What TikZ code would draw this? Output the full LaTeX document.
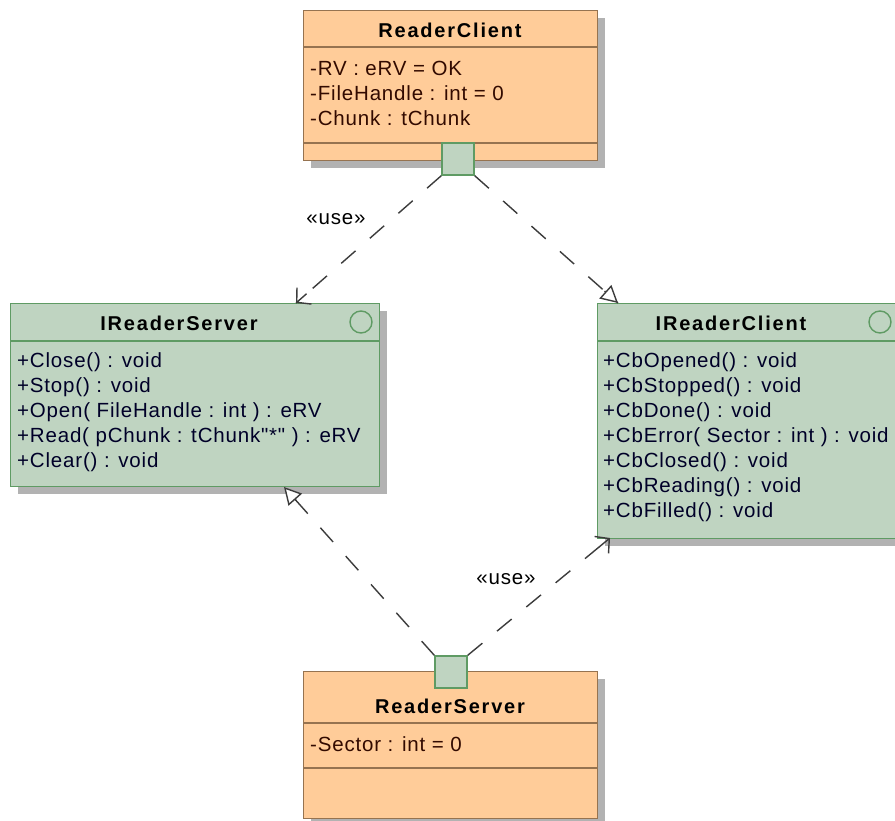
\documentclass[tikz,border=0pt]{standalone}
\usepackage{fontspec}
\setmainfont{Liberation Sans}
\newfontfamily\bodyfont[LetterSpace=4]{Liberation Sans}
\newfontfamily\headfont[LetterSpace=9]{Liberation Sans Bold}
\usetikzlibrary{arrows.meta,shadows,calc}
\definecolor{orfill}{RGB}{255,204,153}
\definecolor{ordraw}{RGB}{150,115,80}
\definecolor{grfill}{RGB}{191,212,193}
\definecolor{grdraw}{RGB}{95,155,100}
\definecolor{shade}{RGB}{178,178,178}
\definecolor{lnk}{RGB}{60,60,60}
\definecolor{ortext}{RGB}{50,10,0}
\definecolor{grtext}{RGB}{0,0,40}
\tikzset{
  x=1pt,y=-1pt,
  boxshadow/.style={drop shadow={shadow xshift=7pt,shadow yshift=-7pt,fill=shade,opacity=1}},
  orbox/.style={draw=ordraw,fill=orfill,line width=1.4pt,anchor=north west,inner sep=0,boxshadow},
  grbox/.style={draw=grdraw,fill=grfill,line width=1.4pt,anchor=north west,inner sep=0,boxshadow},
  port/.style={draw=grdraw,fill=grfill,line width=1.4pt,minimum width=32pt,minimum height=32pt,inner sep=0},
  hdr/.style={font={\fontsize{20}{24}\headfont},inner sep=0,text=black},
  orrow/.style={font={\fontsize{20.5}{24}\bodyfont},inner sep=0,anchor=west,text=ortext},
  grrow/.style={font={\fontsize{20.5}{24}\bodyfont},inner sep=0,anchor=west,text=grtext},
  lbl/.style={font={\fontsize{20.5}{24}\bodyfont},inner sep=0,text=black},
  dep/.style={draw=lnk,line width=1.4pt,dash pattern=on 19pt off 19pt},
  tipline/.style={draw=lnk,line width=1.4pt,solid},
  usearrow/.style={-{Straight Barb[length=10pt,width=22pt,line width=1.4pt]}},
  realarrow/.style={-{Triangle[open,fill=white,length=17pt,width=18pt,line width=1.4pt]}},
}
\begin{document}
\begin{tikzpicture}
\useasboundingbox[fill=white] (0,0) rectangle (895,821);

% ReaderClient
\node[orbox,minimum width=294pt,minimum height=150pt] (rc) at (303,10) {};
\draw[ordraw,line width=1.4pt] (303,47) -- (597,47);
\draw[ordraw,line width=1.4pt] (303,143) -- (597,143);
\node[hdr] (rcT) at (450,30) {ReaderClient};
\node[orrow] (rc1) at (310,68) {-RV : eRV = OK};
\node[orrow] (rc2) at (310,93) {-FileHandle : int = 0};
\node[orrow] (rc3) at (310,118) {-Chunk : tChunk};
\node[port] (p1) at (458,159) {};

% IReaderServer
\node[grbox,minimum width=369pt,minimum height=183pt] (irs) at (10,303) {};
\draw[grdraw,line width=1.4pt] (10,341) -- (379,341);
\draw[grdraw,line width=1.4pt] (361,322) circle (11);
\node[hdr] (irsT) at (179,323) {IReaderServer};
\node[grrow] (irs1) at (17,362) {+Close() : void};
\node[grrow] (irs2) at (17,387) {+Stop() : void};
\node[grrow] (irs3) at (17,412) {+Open( FileHandle : int ) : eRV};
\node[grrow] (irs4) at (17,437) {+Read( pChunk : tChunk"*" ) : eRV};
\node[grrow] (irs5) at (17,462) {+Clear() : void};

% IReaderClient
\node[grbox,minimum width=312pt,minimum height=235pt] (irc) at (597,303) {};
\draw[grdraw,line width=1.4pt] (597,341) -- (909,341);
\draw[grdraw,line width=1.4pt] (880,322) circle (11);
\node[hdr] (ircT) at (731,323) {IReaderClient};
\node[grrow] (irc1) at (603,362) {+CbOpened() : void};
\node[grrow] (irc2) at (603,387) {+CbStopped() : void};
\node[grrow] (irc3) at (603,412) {+CbDone() : void};
\node[grrow] (irc4) at (603,437) {+CbError( Sector : int ) : void};
\node[grrow] (irc5) at (603,462) {+CbClosed() : void};
\node[grrow] (irc6) at (603,487) {+CbReading() : void};
\node[grrow] (irc7) at (603,512) {+CbFilled() : void};

% ReaderServer
\node[orbox,minimum width=294pt,minimum height=147pt] (rs) at (303,671) {};
\draw[ordraw,line width=1.4pt] (303,723) -- (597,723);
\draw[ordraw,line width=1.4pt] (303,768) -- (597,768);
\node[hdr] (rsT) at (450,706) {ReaderServer};
\node[orrow] (rs1) at (310,744) {-Sector : int = 0};
\node[port] (p2) at (451,672) {};

% connectors
\coordinate (t1) at (296,303);
\coordinate (t2) at (618,303);
\coordinate (t3) at (284,487);
\coordinate (t4) at (610,538);
\draw[dep] (p1.south west) -- (t1);
\draw[tipline,usearrow] ($(t1)!14pt!(p1.south west)$) -- (t1);
\draw[dep] (p1.south east) -- (t2);
\draw[tipline,realarrow] ($(t2)!18pt!(p1.south east)$) -- (t2);
\draw[dep] (p2.north west) -- (t3);
\draw[tipline,realarrow] ($(t3)!18pt!(p2.north west)$) -- (t3);
\draw[dep] (p2.north east) -- (t4);
\draw[tipline,usearrow] ($(t4)!14pt!(p2.north east)$) -- (t4);
\node[lbl] (u1) at (336,219) {«use»};
\node[lbl] (u2) at (506,579) {«use»};
\end{tikzpicture}
\end{document}
